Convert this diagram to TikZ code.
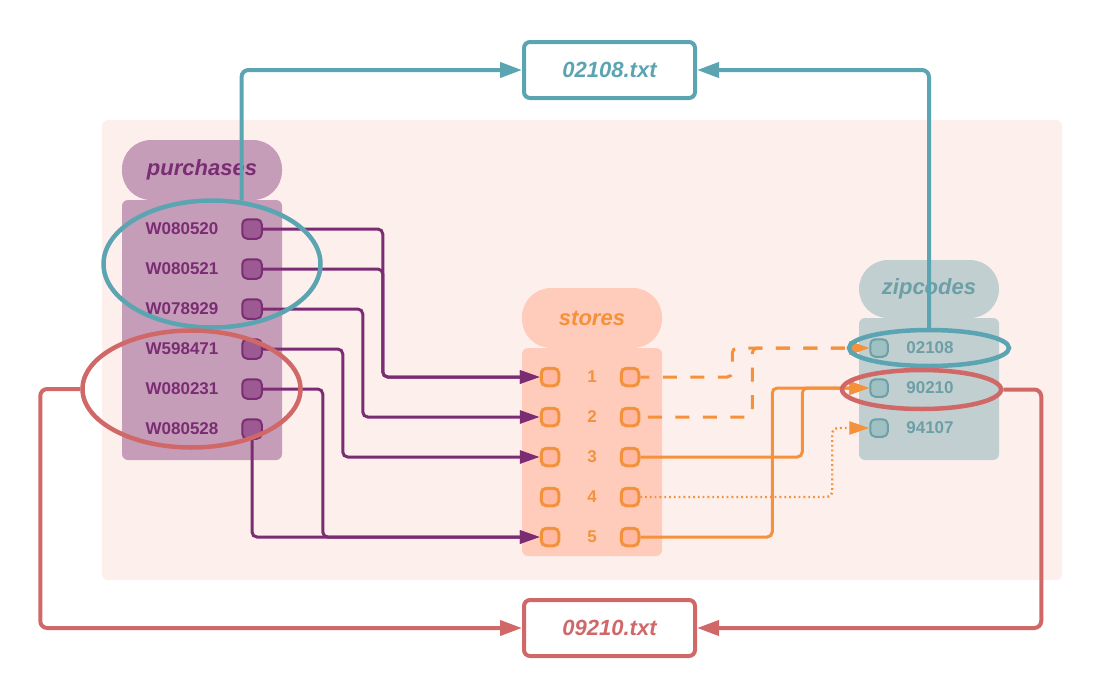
\documentclass[tikz,border=0pt]{standalone}
\usepackage{fontspec}
\setmainfont{Liberation Sans}
\usepackage{tikz}
\usetikzlibrary{arrows.meta,calc,positioning,shapes}
\definecolor{bgpink}{HTML}{FDEFEC}
\definecolor{purfill}{HTML}{C59DB9}
\definecolor{purport}{HTML}{9D5A92}
\definecolor{purdark}{HTML}{7A2D72}
\definecolor{stofill}{HTML}{FFCCBB}
\definecolor{stoport}{HTML}{FFB9A3}
\definecolor{storange}{HTML}{F4913A}
\definecolor{zipfill}{HTML}{C1CFD1}
\definecolor{zipport}{HTML}{A0C1C3}
\definecolor{zipline}{HTML}{6C9FA6}
\definecolor{teal}{HTML}{5BA5B2}
\definecolor{redring}{HTML}{D06868}
\tikzstyle{panel}=[fill=bgpink, rounded corners=6pt, minimum width=960pt, minimum height=460pt]
\tikzstyle{tablehead}=[rounded corners=29pt, minimum height=60pt, inner sep=0pt, font=\fontsize{22}{26}\selectfont\bfseries\itshape]
\tikzstyle{tablebody}=[rounded corners=6pt, inner sep=0pt]
\tikzstyle{port}=[draw, rounded corners=5pt, inner sep=0pt, minimum size=17.5pt, line width=2pt]
\tikzstyle{pport}=[port, fill=purport, draw=purdark, minimum size=19.5pt]
\tikzstyle{sport}=[port, fill=stoport, draw=storange, line width=3pt]
\tikzstyle{zport}=[port, fill=zipport, draw=zipline]
\tikzstyle{rowtext}=[font=\fontsize{17}{20}\selectfont\bfseries]
\tikzstyle{filebox}=[draw, line width=4pt, rounded corners=6pt, fill=white, minimum width=171pt, minimum height=56pt, font=\fontsize{22}{26}\selectfont\bfseries\itshape]
\tikzstyle{ring}=[draw, ellipse, line width=4.5pt, inner sep=0pt]
\tikzstyle{pwire}=[draw=purdark, line width=3pt, rounded corners=5pt, -{Triangle[length=20pt,width=13pt]}]
\tikzstyle{owire}=[draw=storange, line width=3pt, rounded corners=5pt, -{Triangle[length=20pt,width=13pt]}]
\tikzstyle{twire}=[draw=teal, line width=4pt, rounded corners=7pt, -{Triangle[length=22pt,width=15pt]}]
\tikzstyle{rwire}=[draw=redring, line width=4pt, rounded corners=7pt, -{Triangle[length=22pt,width=15pt]}]
\begin{document}
\begin{tikzpicture}[x=1pt, y=-1pt, node distance=40pt]
    \useasboundingbox (0,0) rectangle (1103,699);
    \node (bg) [panel] at (582,350) {};
    %
    \node (phead) [tablehead, fill=purfill, text=purdark, minimum width=160pt] at (202,170) {purchases};
    \node (pbody) [tablebody, fill=purfill, minimum width=160pt, minimum height=260pt] at (202,330) {};
    \node (pp1) [pport] at (252,229) {};
    \node (pp2) [pport, below of=pp1] {};
    \node (pp3) [pport, below of=pp2] {};
    \node (pp4) [pport, below of=pp3] {};
    \node (pp5) [pport, below of=pp4] {};
    \node (pp6) [pport, below of=pp5] {};
    \node (pl1) [rowtext, text=purdark, left of=pp1, node distance=70pt] {W080520};
    \node (pl2) [rowtext, text=purdark, left of=pp2, node distance=70pt] {W080521};
    \node (pl3) [rowtext, text=purdark, left of=pp3, node distance=70pt] {W078929};
    \node (pl4) [rowtext, text=purdark, left of=pp4, node distance=70pt] {W598471};
    \node (pl5) [rowtext, text=purdark, left of=pp5, node distance=70pt] {W080231};
    \node (pl6) [rowtext, text=purdark, left of=pp6, node distance=70pt] {W080528};
    %
    \node (shead) [tablehead, fill=stofill, text=storange, minimum width=140pt] at (592,318) {stores};
    \node (sbody) [tablebody, fill=stofill, minimum width=140pt, minimum height=208pt] at (592,452) {};
    \node (sl1) [sport] at (550,377) {};
    \node (sl2) [sport, below of=sl1] {};
    \node (sl3) [sport, below of=sl2] {};
    \node (sl4) [sport, below of=sl3] {};
    \node (sl5) [sport, below of=sl4] {};
    \node (sn1) [rowtext, text=storange, right of=sl1, node distance=42pt] {1};
    \node (sn2) [rowtext, text=storange, right of=sl2, node distance=42pt] {2};
    \node (sn3) [rowtext, text=storange, right of=sl3, node distance=42pt] {3};
    \node (sn4) [rowtext, text=storange, right of=sl4, node distance=42pt] {4};
    \node (sn5) [rowtext, text=storange, right of=sl5, node distance=42pt] {5};
    \node (sr1) [sport, right of=sl1, node distance=80pt] {};
    \node (sr2) [sport, right of=sl2, node distance=80pt] {};
    \node (sr3) [sport, right of=sl3, node distance=80pt] {};
    \node (sr4) [sport, right of=sl4, node distance=80pt] {};
    \node (sr5) [sport, right of=sl5, node distance=80pt] {};
    %
    \node (zhead) [tablehead, fill=zipfill, text=zipline, minimum width=140pt, minimum height=58pt] at (929,289) {zipcodes};
    \node (zbody) [tablebody, fill=zipfill, minimum width=140pt, minimum height=142pt] at (929,389) {};
    \node (zp1) [zport] at (879,348) {};
    \node (zp2) [zport, below of=zp1] {};
    \node (zp3) [zport, below of=zp2] {};
    \node (zl1) [rowtext, text=zipline, right of=zp1, node distance=51pt] {02108};
    \node (zl2) [rowtext, text=zipline, right of=zp2, node distance=51pt] {90210};
    \node (zl3) [rowtext, text=zipline, right of=zp3, node distance=51pt] {94107};
    %
    \node (f02108) [filebox, draw=teal, text=teal] at (609.5,70) {02108.txt};
    \node (f09210) [filebox, draw=redring, text=redring] at (609.5,628) {09210.txt};
    %
    \draw [pwire] (pp1.east) -- ++(120,0) |- (sl1);
    \draw [pwire] (pp2.east) -- ++(120,0) |- (sl1);
    \draw [pwire] (pp3.east) -- ++(100,0) |- (sl2);
    \draw [pwire] (pp4.east) -- ++(80,0) |- (sl3);
    \draw [pwire] (pp5.east) -- ++(60,0) |- (sl5);
    \draw [pwire] (pp6.south) |- (sl5);
    %
    \draw [owire, dash pattern=on 14pt off 13.5pt, dash phase=5pt] (sr1.east) -- ++(92,0) |- (zp1);
    \draw [owire, dash pattern=on 14pt off 13.5pt, dash phase=20pt] (sr2.east) -- ++(112,0) |- (zp1);
    \draw [owire] (sr3.east) -- ++(162,0) |- (zp2);
    \draw [owire, line width=2.4pt, dash pattern=on 1.8pt off 3pt] (sr4.east) -- ++(192,0) |- (zp3);
    \draw [owire] (sr5.east) -- ++(132,0) |- (zp2);
    %
    \node (tealP) [ring, draw=teal, minimum width=217pt, minimum height=127pt] at (212,264) {};
    \node (redP) [ring, draw=redring, minimum width=218pt, minimum height=117pt] at (191.5,389) {};
    \node (tealZ) [ring, draw=teal, minimum width=160pt, minimum height=36pt] at (929,348) {};
    \node (redZ) [ring, draw=redring, minimum width=159pt, minimum height=39pt] at (921.5,389.5) {};
    %
    \draw [twire] (tealP.65) |- (f02108);
    \draw [twire] (tealZ.north) |- (f02108);
    \draw [rwire] (redP.west) -- ++(-40,0) |- (f09210);
    \draw [rwire] (redZ.east) -- ++(38,0) |- (f09210);
\end{tikzpicture}
\end{document}
